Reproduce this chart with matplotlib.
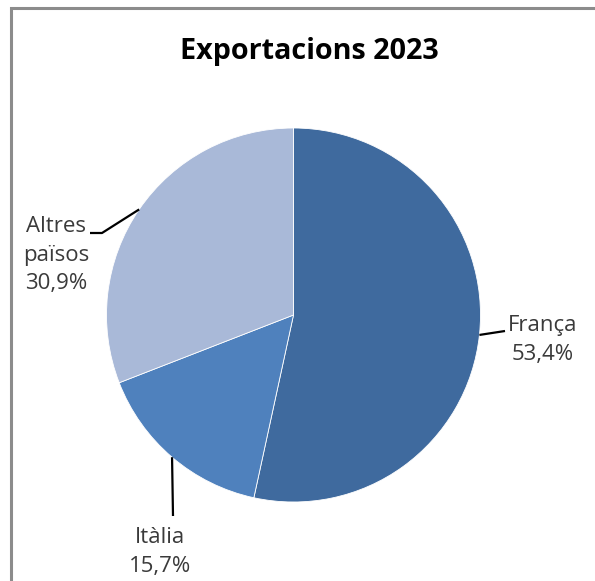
import numpy as np
import matplotlib.pyplot as plt

plt.rcParams['font.family'] = ['Open Sans', 'DejaVu Sans']

paisos = ['França', 'Itàlia', 'Altres\npaïsos']
percent = [53.4, 15.7, 30.9]
colors = ['#3F6A9E', '#4F81BD', '#A9B9D8']
pct_labels = ['53,4%', '15,7%', '30,9%']

W, H = 595, 581
fig = plt.figure(figsize=(W / 100, H / 100), dpi=100)
ax = fig.add_axes([0, 0, 1, 1])

cx, cy, r = 293.5, H - 315, 187
wedges, _ = ax.pie(percent, colors=colors, startangle=90, counterclock=False,
                   center=(cx, cy), radius=r, frame=True,
                   wedgeprops=dict(edgecolor='white', linewidth=0.6))
ax.set_xlim(0, W)
ax.set_ylim(0, H)
ax.set_aspect('equal')
ax.axis('off')

# leader lines: start at wedge middle angle, then bend to label
bends = [[(505, 331)], [(173, 516)], [(102, 233), (90, 233)]]
text_pos = [(543, 340), (160, 552), (56, 255)]
for w, name, pct, pts, tp in zip(wedges, paisos, pct_labels, bends, text_pos):
    ang = np.deg2rad((w.theta1 + w.theta2) / 2)
    x0 = cx + r * np.cos(ang)
    y0 = cy + r * np.sin(ang)
    xs = [x0] + [p[0] for p in pts]
    ys = [y0] + [H - p[1] for p in pts]
    ax.plot(xs, ys, color='black', lw=1.6, solid_capstyle='butt')
    ax.text(tp[0], H - tp[1], name + '\n' + pct, ha='center', va='center',
            fontsize=16, color='#3A3A3A', linespacing=1.5)

ax.text(309, H - 59, 'Exportacions 2023', ha='center', va='baseline',
        fontsize=20.7, fontweight='bold', color='black')

# chart frame (left and top edges visible)
ax.plot([10.5, 10.5, W], [0, H - 7.5, H - 7.5], color='#8C8C8C', lw=2.2,
        solid_joinstyle='miter')

fig.savefig('out.png', dpi=100)
